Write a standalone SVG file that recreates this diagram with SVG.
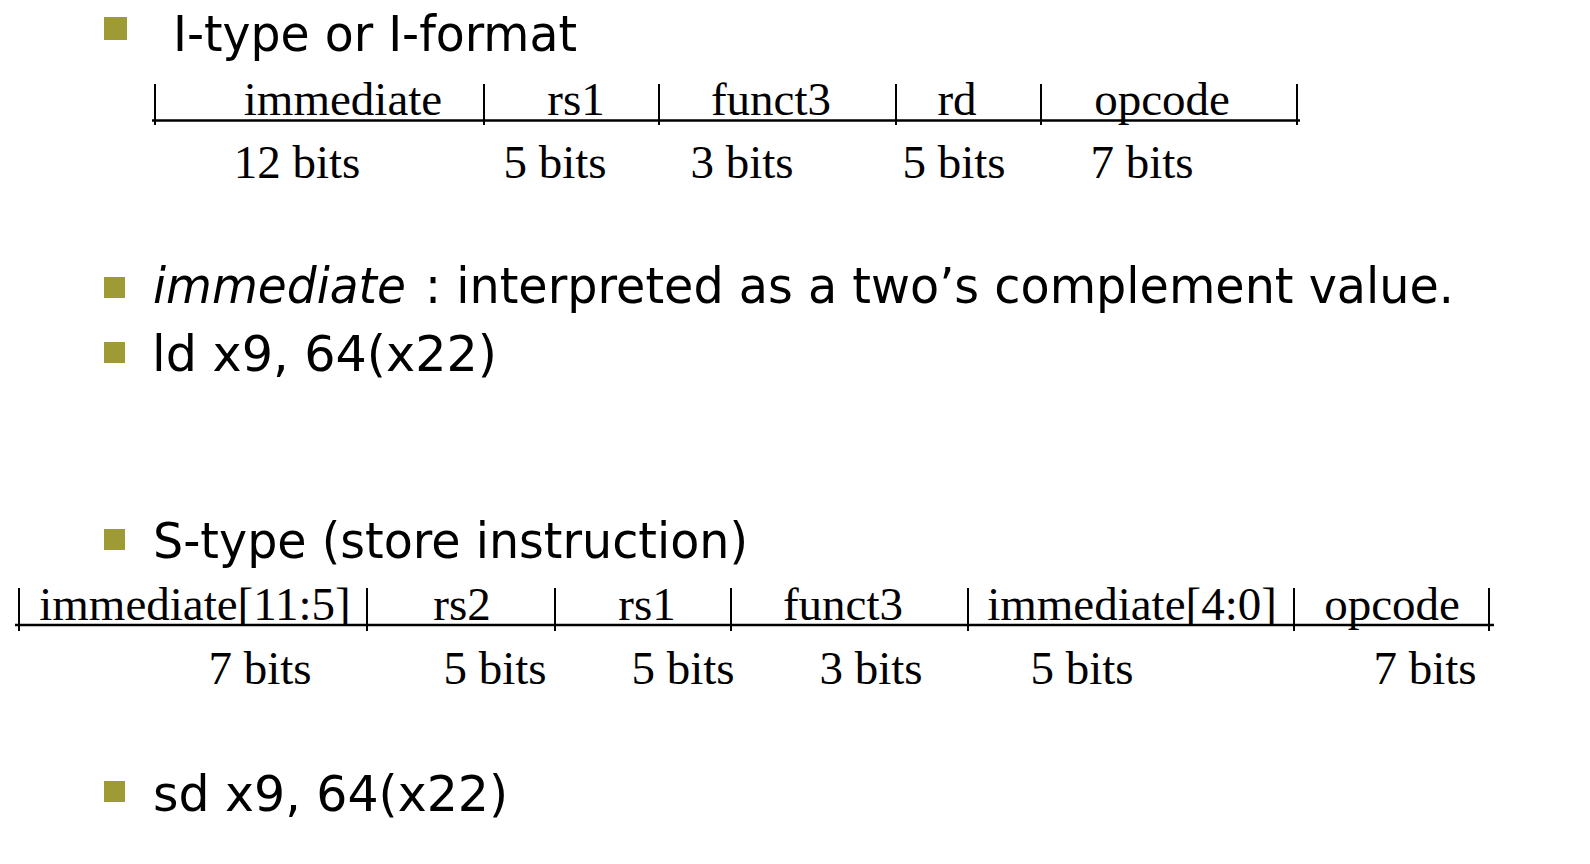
<svg xmlns="http://www.w3.org/2000/svg" width="1590" height="864" viewBox="0 0 1590 864">
<style>
.bul{fill:#9E9A35}
.sans{font-family:"DejaVu Sans","Noto Sans",sans-serif;font-size:49px;fill:#000}
.it{font-style:italic}
.serif{font-family:"Liberation Serif","Times New Roman",serif;font-size:47px;fill:#000}
.rule{stroke:#000;stroke-width:2.5;fill:none}
.tick{stroke:#000;stroke-width:2;fill:none}
</style>
<rect width="1590" height="864" fill="#fff"/>

<g id="bullet-itype">
<rect class="bul" x="104" y="17" width="23" height="23"/>
<text class="sans" x="173" y="51" textLength="404" lengthAdjust="spacingAndGlyphs">I-type or I-format</text>
</g>

<g id="itype-format">
<line class="rule" x1="152" y1="120.5" x2="1300" y2="120.5"/>
<line class="tick" x1="155" y1="84" x2="155" y2="125"/>
<line class="tick" x1="484" y1="84" x2="484" y2="125"/>
<line class="tick" x1="659" y1="84" x2="659" y2="125"/>
<line class="tick" x1="896" y1="84" x2="896" y2="125"/>
<line class="tick" x1="1041" y1="84" x2="1041" y2="125"/>
<line class="tick" x1="1297" y1="84" x2="1297" y2="125"/>
<text class="serif" x="343" y="115" text-anchor="middle">immediate</text>
<text class="serif" x="576" y="115" text-anchor="middle">rs1</text>
<text class="serif" x="771" y="115" text-anchor="middle">funct3</text>
<text class="serif" x="957" y="115" text-anchor="middle">rd</text>
<text class="serif" x="1162" y="115" text-anchor="middle">opcode</text>
<text class="serif" x="297" y="178" text-anchor="middle">12 bits</text>
<text class="serif" x="555" y="178" text-anchor="middle">5 bits</text>
<text class="serif" x="742" y="178" text-anchor="middle">3 bits</text>
<text class="serif" x="954" y="178" text-anchor="middle">5 bits</text>
<text class="serif" x="1142" y="178" text-anchor="middle">7 bits</text>
</g>

<g id="bullet-immediate">
<rect class="bul" x="104" y="277" width="21" height="21"/>
<text class="sans it" x="153" y="303" textLength="253" lengthAdjust="spacingAndGlyphs">immediate</text>
<text class="sans" x="425" y="303" textLength="1029" lengthAdjust="spacingAndGlyphs">: interpreted as a two’s complement value.</text>
</g>

<g id="bullet-ld">
<rect class="bul" x="104" y="342" width="21" height="21"/>
<text class="sans" x="152" y="371" textLength="345" lengthAdjust="spacingAndGlyphs">ld x9, 64(x22)</text>
</g>

<g id="bullet-stype">
<rect class="bul" x="104" y="529" width="21" height="21"/>
<text class="sans" x="153" y="558" textLength="595" lengthAdjust="spacingAndGlyphs">S-type (store instruction)</text>
</g>

<g id="stype-format">
<line class="rule" x1="15" y1="625" x2="1494" y2="625"/>
<line class="tick" x1="19" y1="588" x2="19" y2="631"/>
<line class="tick" x1="367" y1="588" x2="367" y2="631"/>
<line class="tick" x1="555" y1="588" x2="555" y2="631"/>
<line class="tick" x1="731" y1="588" x2="731" y2="631"/>
<line class="tick" x1="968" y1="588" x2="968" y2="631"/>
<line class="tick" x1="1294" y1="588" x2="1294" y2="631"/>
<line class="tick" x1="1489" y1="588" x2="1489" y2="631"/>
<text class="serif" x="195" y="620" text-anchor="middle">immediate[11:5]</text>
<text class="serif" x="462" y="620" text-anchor="middle">rs2</text>
<text class="serif" x="647" y="620" text-anchor="middle">rs1</text>
<text class="serif" x="843" y="620" text-anchor="middle">funct3</text>
<text class="serif" x="1132" y="620" text-anchor="middle">immediate[4:0]</text>
<text class="serif" x="1392" y="620" text-anchor="middle">opcode</text>
<text class="serif" x="260" y="684" text-anchor="middle">7 bits</text>
<text class="serif" x="495" y="684" text-anchor="middle">5 bits</text>
<text class="serif" x="683" y="684" text-anchor="middle">5 bits</text>
<text class="serif" x="871" y="684" text-anchor="middle">3 bits</text>
<text class="serif" x="1082" y="684" text-anchor="middle">5 bits</text>
<text class="serif" x="1425" y="684" text-anchor="middle">7 bits</text>
</g>

<g id="bullet-sd">
<rect class="bul" x="104" y="781" width="21" height="21"/>
<text class="sans" x="153" y="811" textLength="355" lengthAdjust="spacingAndGlyphs">sd x9, 64(x22)</text>
</g>
</svg>
